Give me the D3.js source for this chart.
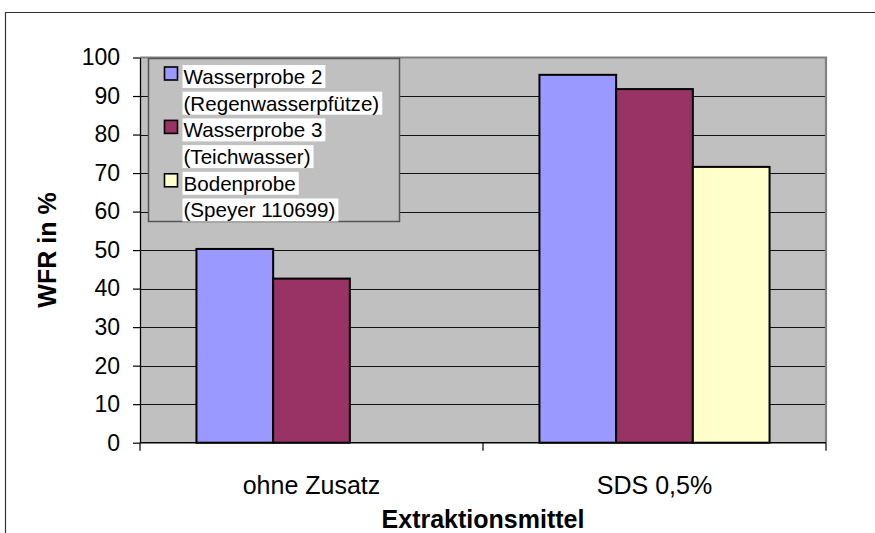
<!DOCTYPE html>
<html>
<head>
<meta charset="utf-8">
<script src="https://cdn.jsdelivr.net/npm/d3@7"></script>
<style>
  body { margin: 0; background: #fff; }
  svg { display: block; font-family: "Liberation Sans", Arial, sans-serif; }
</style>
</head>
<body>
<script>
    const width = 875, height = 533;

    const categories = ["ohne Zusatz", "SDS 0,5%"];
    const seriesNames = ["Wasserprobe 2", "Wasserprobe 3", "Bodenprobe"];
    const seriesLabels = [
        ["Wasserprobe 2", "(Regenwasserpfütze)"],
        ["Wasserprobe 3", "(Teichwasser)"],
        ["Bodenprobe", "(Speyer 110699)"]
    ];
    const seriesColors = ["#9999FF", "#993366", "#FFFFCC"];
    const wasserprobe2 = [50.3, 95.5];
    const wasserprobe3 = [42.6, 91.8];
    const bodenprobe = [null, 71.6];
    const yTicks = [0, 10, 20, 30, 40, 50, 60, 70, 80, 90, 100];

    const values = [wasserprobe2, wasserprobe3, bodenprobe];

    const plot = {left: 140, right: 826, top: 57.5, bottom: 442.7};

    const svg = d3.select("body").append("svg")
        .attr("width", width)
        .attr("height", height);

    // outer chart frame (runs off the bottom/right of the picture)
    svg.append("path")
        .attr("d", `M5.5,${height} V12.5 H${width}`)
        .attr("fill", "none")
        .attr("stroke", "#333")
        .attr("stroke-width", 1.2);

    const x0 = d3.scaleBand().domain(categories).range([plot.left, plot.right]);
    const x1 = d3.scaleBand().domain(seriesNames).range([0, x0.bandwidth()]).paddingOuter(0.736);
    const y = d3.scaleLinear().domain([0, 100]).range([plot.bottom, plot.top]);

    // plot background
    svg.append("rect")
        .attr("x", plot.left)
        .attr("y", plot.top)
        .attr("width", plot.right - plot.left)
        .attr("height", plot.bottom - plot.top)
        .attr("fill", "#C0C0C0");

    // gridlines
    svg.append("g")
        .selectAll("line")
        .data(yTicks.filter(d => d > 0 && d < 100))
        .join("line")
        .attr("x1", plot.left)
        .attr("x2", plot.right)
        .attr("y1", d => Math.round(y(d)) + 0.5)
        .attr("y2", d => Math.round(y(d)) + 0.5)
        .attr("stroke", "#111")
        .attr("stroke-width", 1);

    // top + right border of plot area
    svg.append("path")
        .attr("d", `M${plot.left},${plot.top} H${plot.right} V${plot.bottom}`)
        .attr("fill", "none")
        .attr("stroke", "#808080")
        .attr("stroke-width", 2.2);

    // bars
    const rows = [];
    categories.forEach((c, ci) => {
        seriesNames.forEach((s, si) => {
            if (values[si][ci] != null) rows.push({cat: c, series: s, value: values[si][ci], color: seriesColors[si]});
        });
    });

    svg.append("g")
        .selectAll("rect")
        .data(rows)
        .join("rect")
        .attr("x", d => x0(d.cat) + x1(d.series))
        .attr("y", d => y(d.value))
        .attr("width", x1.bandwidth())
        .attr("height", d => y(0) - y(d.value))
        .attr("fill", d => d.color)
        .attr("stroke", "#000")
        .attr("stroke-width", 2);

    // y axis
    const yAxis = svg.append("g")
        .attr("transform", `translate(${plot.left},0)`)
        .call(d3.axisLeft(y).tickValues(yTicks).tickSize(7).tickPadding(13).tickSizeOuter(0));
    yAxis.select(".domain").attr("stroke", "#000").attr("stroke-width", 1.3);
    yAxis.selectAll(".tick line").attr("stroke", "#000").attr("stroke-width", 1.2);
    yAxis.selectAll(".tick text")
        .attr("fill", "#000")
        .style("font-size", "23px")
        .style("font-family", "'Liberation Sans', Arial, sans-serif");

    // x axis line + ticks at band edges
    svg.append("line")
        .attr("x1", plot.left)
        .attr("x2", plot.right)
        .attr("y1", plot.bottom)
        .attr("y2", plot.bottom)
        .attr("stroke", "#000")
        .attr("stroke-width", 1.5);

    const edges = categories.map(c => x0(c)).concat([x0.range()[1]]);
    svg.append("g")
        .selectAll("line")
        .data(edges)
        .join("line")
        .attr("x1", d => d)
        .attr("x2", d => d)
        .attr("y1", plot.bottom)
        .attr("y2", plot.bottom + 8)
        .attr("stroke", "#000")
        .attr("stroke-width", 1.2);

    svg.append("g")
        .selectAll("text")
        .data(categories)
        .join("text")
        .attr("x", d => x0(d) + x0.bandwidth() / 2)
        .attr("y", 494)
        .attr("text-anchor", "middle")
        .style("font-size", "25px")
        .text(d => d);

    // axis titles
    svg.append("text")
        .attr("x", (plot.left + plot.right) / 2)
        .attr("y", 528)
        .attr("text-anchor", "middle")
        .style("font-size", "25px")
        .style("font-weight", "bold")
        .text("Extraktionsmittel");

    svg.append("text")
        .attr("transform", "translate(56,250) rotate(-90)")
        .attr("text-anchor", "middle")
        .style("font-size", "25px")
        .style("font-weight", "bold")
        .text("WFR in %");

    // legend
    const legend = svg.append("g");
    legend.append("rect")
        .attr("x", 148.5)
        .attr("y", 58.5)
        .attr("width", 251)
        .attr("height", 163)
        .attr("fill", "#C0C0C0")
        .attr("stroke", "#555")
        .attr("stroke-width", 1.5);

    const lineH = 26.7;
    const item = legend.selectAll("g.item")
        .data(seriesLabels)
        .join("g")
        .attr("class", "item")
        .attr("transform", (d, i) => `translate(0,${i * 2 * lineH})`);

    item.append("rect")
        .attr("x", 164.5)
        .attr("y", 67)
        .attr("width", 13)
        .attr("height", 13)
        .attr("fill", (d, i) => seriesColors[i])
        .attr("stroke", "#000")
        .attr("stroke-width", 1.6);

    item.each(function (lines) {
        const g = d3.select(this);
        lines.forEach((t, li) => {
            const cy = 76.5 + li * lineH;
            const bg = g.append("rect")
                .attr("x", 182.5)
                .attr("y", cy - 11.5)
                .attr("height", 23)
                .attr("fill", "#fff");
            const txt = g.append("text")
                .attr("x", 183.5)
                .attr("y", cy + 7.3)
                .style("font-size", "20.6px")
                .text(t);
            bg.attr("width", txt.node().getComputedTextLength() + 4);
        });
    });
</script>
</body>
</html>
